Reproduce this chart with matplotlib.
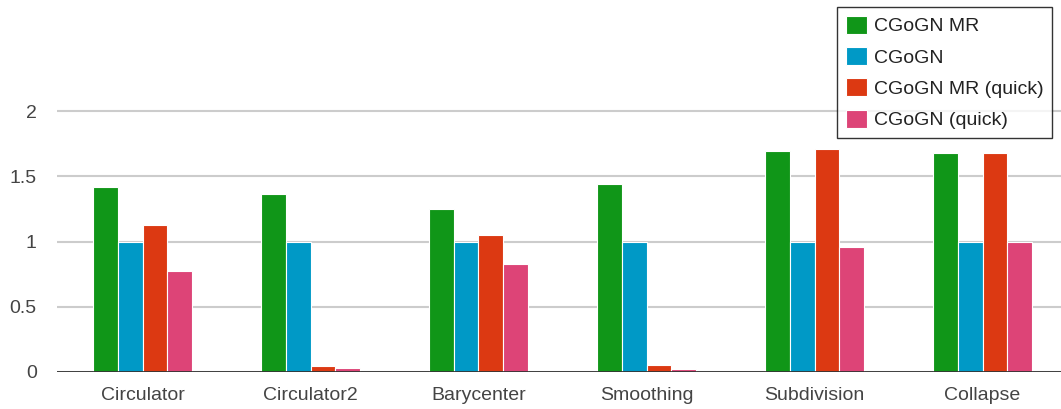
import numpy as np
import matplotlib.pyplot as plt

# Data
categories = ['Circulator', 'Circulator2', 'Barycenter', 'Smoothing', 'Subdivision', 'Collapse']
series_names = ['CGoGN MR', 'CGoGN', 'CGoGN MR (quick)', 'CGoGN (quick)']
cgogn_mr = [1.42, 1.365, 1.25, 1.44, 1.695, 1.68]
cgogn = [1.0, 1.0, 1.0, 1.0, 1.0, 1.0]
cgogn_mr_quick = [1.125, 0.046, 1.05, 0.054, 1.71, 1.68]
cgogn_quick = [0.775, 0.03, 0.828, 0.023, 0.958, 1.0]
yticks = [0, 0.5, 1, 1.5, 2]
ytick_labels = ['0', '0.5', '1', '1.5', '2']

colors = ['#109618', '#0099c6', '#dc3912', '#dd4477']

plt.rcParams['font.family'] = ['Liberation Sans', 'DejaVu Sans']

W, H = 1061, 409
fig = plt.figure(figsize=(W / 100, H / 100), dpi=100)
ax = fig.add_axes([57 / W, 37 / H, 1004 / W, 372 / H])

x = np.arange(len(categories))
bw = 0.148
all_series = [cgogn_mr, cgogn, cgogn_mr_quick, cgogn_quick]
for i, vals in enumerate(all_series):
    ax.bar(x + (i - 1.5) * bw, vals, bw, color=colors[i], label=series_names[i],
           edgecolor='white', linewidth=0.8, zorder=3)

# group pitch ~168 px, first group centred at x=142.5 px
ax.set_xlim(-(142.5 - 57) / 168, (1061 - 142.5) / 168)
ax.set_ylim(0, 372 / 130.5)
ax.set_yticks(yticks)
ax.set_yticklabels(ytick_labels)
ax.set_xticks(x)
ax.set_xticklabels(categories)
ax.tick_params(length=0, labelsize=14, labelcolor='#444444')
ax.tick_params(axis='x', pad=11)
ax.tick_params(axis='y', pad=14.5)

ax.grid(axis='y', color='#cccccc', linewidth=1.5, zorder=0)
ax.axhline(0, color='#333333', linewidth=2, zorder=4)
for s in ax.spines.values():
    s.set_visible(False)

leg = ax.legend(loc='upper right', bbox_to_anchor=(1052 / W, 1 - 7 / H),
                bbox_transform=fig.transFigure, fontsize=14, frameon=True,
                fancybox=False, handlelength=1.05, handleheight=1.05,
                labelspacing=0.6, handletextpad=0.36, borderpad=0.45,
                borderaxespad=0)
leg.get_frame().set_edgecolor('black')
leg.get_frame().set_linewidth(1)
for t in leg.get_texts():
    t.set_color('#222222')

fig.savefig('out.png', dpi=100)
